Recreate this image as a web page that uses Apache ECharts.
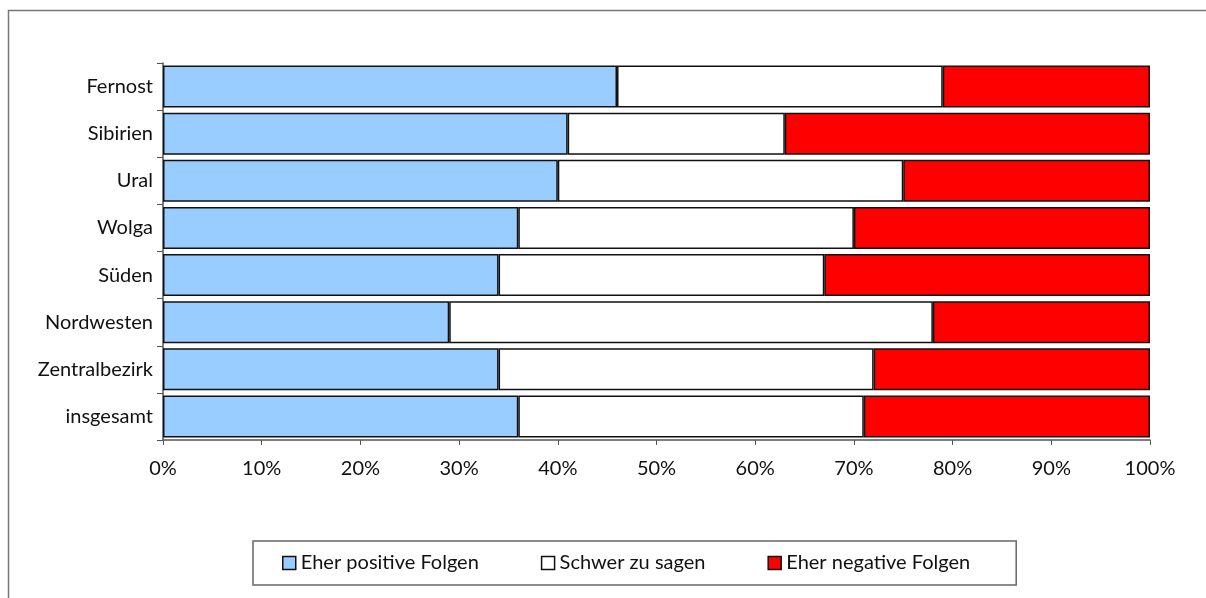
<!DOCTYPE html>
<html><head><meta charset="utf-8">
<script src="https://cdn.jsdelivr.net/npm/echarts@6/dist/echarts.min.js"></script>
<style>html,body{margin:0;padding:0;background:#fff}#c{width:1206px;height:598px}</style>
</head><body><div id="c"></div>
<script>
const categories = ['Fernost','Sibirien','Ural','Wolga','Süden','Nordwesten','Zentralbezirk','insgesamt'];
const positive = [46, 41, 40, 36, 34, 29, 34, 36];
const unsure   = [33, 22, 35, 34, 33, 49, 38, 35];
const negative = [21, 37, 25, 30, 33, 22, 28, 29];
const seriesNames = ['Eher positive Folgen','Schwer zu sagen','Eher negative Folgen'];
const colors = ['#99ccff','#ffffff','#ff0000'];

const FONT = 'Lato, "DejaVu Sans", sans-serif';
const FS = 20;
const chart = echarts.init(document.getElementById('c'));
const mk = (name, data, color) => ({
  name, type: 'bar', stack: 'total', data,
  barCategoryGap: '11%',
  itemStyle: { color, borderColor: '#111', borderWidth: 1.5 }
});
chart.setOption({
  animation: false,
  textStyle: { fontFamily: FONT },
  graphic: [{
    type: 'rect', shape: { x: 8.5, y: 10.5, width: 1210, height: 600 },
    style: { fill: 'none', stroke: '#777', lineWidth: 1.5 }, silent: true
  }],
  grid: { left: 163, right: 56, top: 63, bottom: 158, containLabel: false },
  xAxis: {
    type: 'value', min: 0, max: 100, interval: 10,
    axisLine: { show: true, lineStyle: { color: '#555', width: 1.5 } },
    axisTick: { show: true, length: 5, lineStyle: { color: '#555' } },
    splitLine: { show: false },
    axisLabel: { formatter: '{value}%', color: '#111', fontSize: FS, margin: 19, fontFamily: FONT }
  },
  yAxis: {
    type: 'category', data: categories, inverse: true,
    axisLine: { show: true, lineStyle: { color: '#555', width: 1.5 } },
    axisTick: { show: true, length: 6, inside: false, lineStyle: { color: '#555' } },
    axisLabel: { color: '#111', fontSize: FS, margin: 10, fontFamily: FONT }
  },
  legend: {
    left: 253, top: 541,
    padding: [12, 46, 12, 29],
    itemGap: 62, itemWidth: 13, itemHeight: 13,
    borderColor: '#666', borderWidth: 1.5, backgroundColor: '#fff',
    icon: 'rect',
    textStyle: { color: '#111', fontSize: FS, fontFamily: FONT },
    data: seriesNames.map((n, i) => ({ name: n, itemStyle: { color: colors[i], borderColor: '#111', borderWidth: 1.5 } }))
  },
  series: [
    mk(seriesNames[0], positive, colors[0]),
    mk(seriesNames[1], unsure, colors[1]),
    mk(seriesNames[2], negative, colors[2])
  ]
});
</script></body></html>
